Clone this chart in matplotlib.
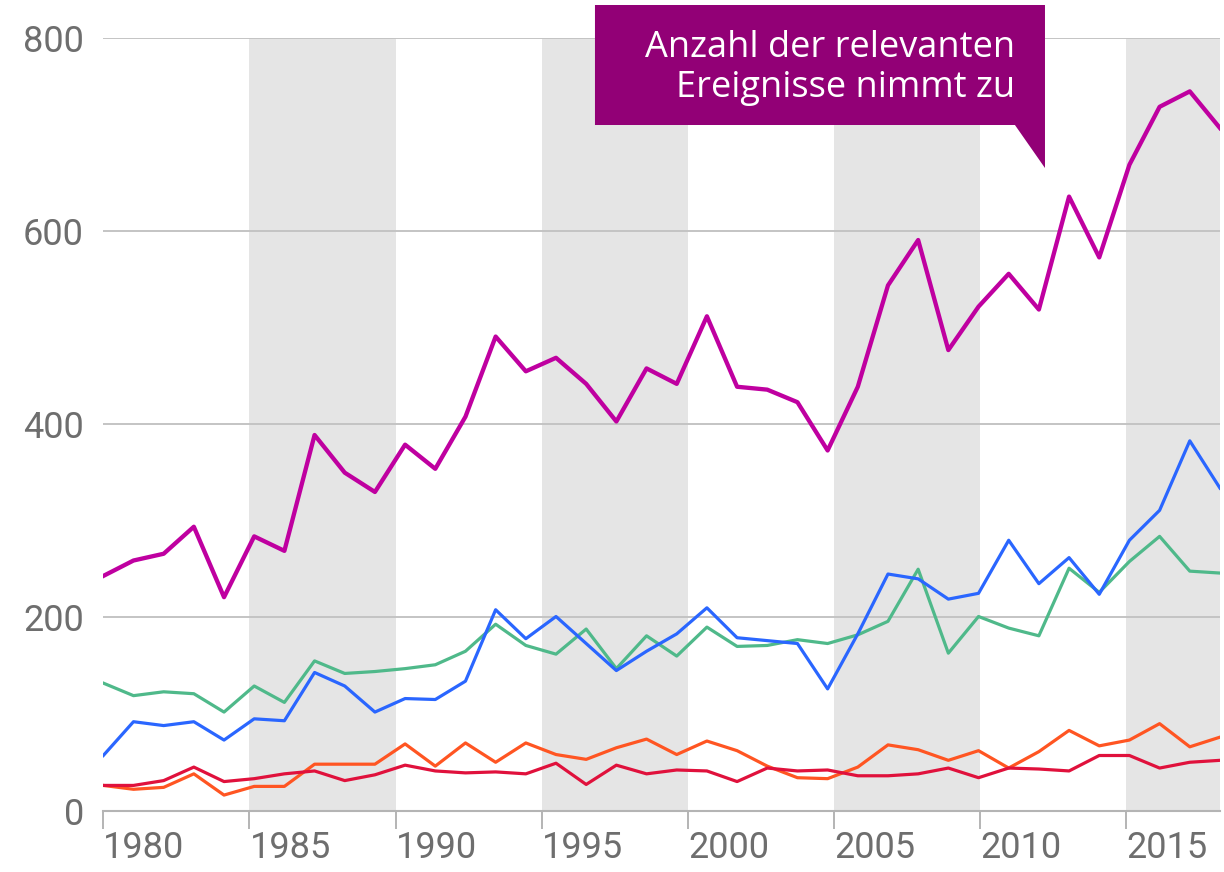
import matplotlib
matplotlib.use('Agg')
import matplotlib.pyplot as plt
from matplotlib.patches import Polygon

plt.rcParams['font.family'] = ['Roboto', 'DejaVu Sans']

# Jahre der Datenreihen
years = list(range(1980, 2018))

# Gesamtzahl der relevanten Ereignisse (magenta)
total = [243, 259, 266, 294, 221, 284, 269, 389, 350, 330,
         379, 354, 408, 491, 455, 469, 442, 403, 458, 442,
         512, 439, 436, 423, 373, 439, 544, 591, 477, 522,
         556, 519, 636, 573, 669, 729, 745, 707]

series_blue = [57, 92, 88, 92, 73, 95, 93, 143, 129, 102,
               116, 115, 134, 208, 178, 201, 173, 145, 165, 183,
               210, 179, 176, 173, 126, 183, 245, 240, 219, 225,
               280, 235, 262, 224, 280, 311, 383, 334]

series_green = [132, 119, 123, 121, 102, 129, 112, 155, 142, 144,
                147, 151, 165, 193, 171, 162, 188, 147, 181, 160,
                190, 170, 171, 177, 173, 182, 196, 250, 163, 201,
                189, 181, 251, 226, 258, 284, 248, 246]

series_orange = [26, 22, 24, 38, 16, 25, 25, 48, 48, 48,
                 69, 46, 70, 50, 70, 58, 53, 65, 74, 58,
                 72, 62, 46, 34, 33, 45, 68, 63, 52, 62,
                 44, 61, 83, 67, 73, 90, 66, 76]

series_red = [26, 26, 31, 45, 30, 33, 38, 41, 31, 37,
              47, 41, 39, 40, 38, 49, 27, 47, 38, 42,
              41, 30, 44, 41, 42, 36, 36, 38, 44, 34,
              44, 43, 41, 57, 57, 44, 50, 52]

x_ticks = [1980, 1985, 1990, 1995, 2000, 2005, 2010, 2015]
y_ticks = [0, 200, 400, 600, 800]
band_starts = [1985, 1995, 2005, 2015]

callout_text = "Anzahl der relevanten\nEreignisse nimmt zu"

fig = plt.figure(figsize=(12.24, 8.72), dpi=100)
ax = fig.add_axes([0.0844, 0.0705, 0.9123, 0.8856])

# axis with the year ticks and grey bands
ax.set_xlim(1980, 2018.2)
ax.set_ylim(0, 800)
for start in band_starts:
    ax.axvspan(start, start + 5, color='#e5e5e5', lw=0, zorder=0)

ax.set_axisbelow(True)
ax.yaxis.grid(True, color='#c4c4c4', lw=1.4)
ax.xaxis.grid(False)

for side in ['top', 'right', 'left']:
    ax.spines[side].set_visible(False)
ax.spines['bottom'].set_color('#b4b4b4')
ax.spines['bottom'].set_linewidth(1.5)

ax.set_xticks(x_ticks)
ax.set_xticklabels([str(y) for y in x_ticks])
ax.set_yticks(y_ticks)
ax.tick_params(axis='x', direction='out', length=13, width=1.4, color='#b4b4b4',
               labelsize=26, labelcolor='#6e6e6e', pad=1)
ax.tick_params(axis='y', length=0, labelsize=26, labelcolor='#6e6e6e', pad=14)
for lbl in ax.get_xticklabels():
    lbl.set_ha('left')

# twin axis for the data lines
ax2 = ax.twiny()
ax2.set_xlim(1980, 2017)
ax2.set_ylim(0, 800)
ax2.set_axis_off()

ax2.plot(years, series_green, color='#4fb98a', lw=2.3)
ax2.plot(years, series_blue, color='#2a66ff', lw=2.3)
ax2.plot(years, series_orange, color='#ff5522', lw=2.3)
ax2.plot(years, series_red, color='#e0113c', lw=2.3)
ax2.plot(years, total, color='#bf00a0', lw=3.1)

# callout box
x0, x1, xt = 0.4403, 0.8433, 0.8164
ytop, ybot, ytip = 1.0431, 0.8877, 0.8320
box = Polygon([(x0, ybot), (x0, ytop), (x1, ytop), (x1, ytip), (xt, ybot)],
              closed=True, facecolor='#920076', edgecolor='none',
              transform=ax.transAxes, clip_on=False, zorder=5)
ax.add_patch(box)
ax.text(0.8164, 0.962, callout_text, transform=ax.transAxes, ha='right', va='center',
        multialignment='right', color='white', fontsize=26, linespacing=1.15,
        family=['Open Sans', 'DejaVu Sans'], zorder=6)

plt.savefig('out.png', dpi=100)
